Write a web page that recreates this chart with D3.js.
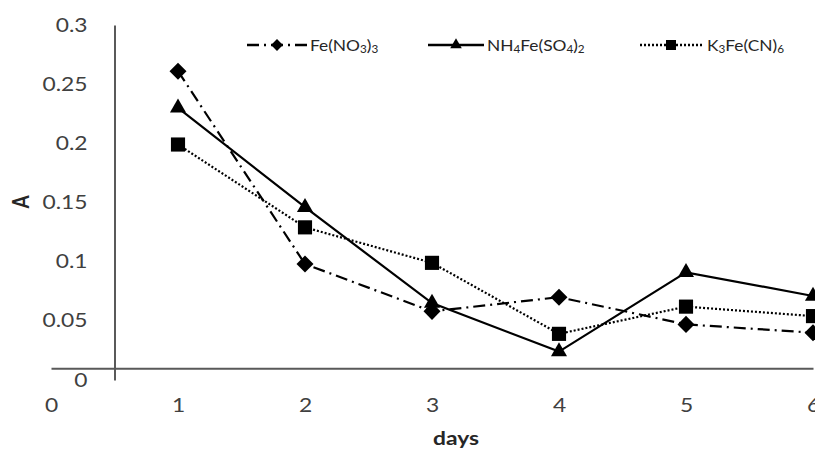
<!DOCTYPE html>
<html>
<head>
<meta charset="utf-8">
<script src="https://cdn.jsdelivr.net/npm/d3@7"></script>
<style>
  html, body { margin: 0; padding: 0; background: #fff; }
  svg { display: block; font-family: Lato, "Open Sans", sans-serif; }
</style>
</head>
<body>
<svg id="chart" width="815" height="451"></svg>
<script>
// ---- data ----
const days = [1, 2, 3, 4, 5, 6];
const feNO3 = [0.261, 0.098, 0.058, 0.070, 0.047, 0.040];
const nh4FeSO4 = [0.230, 0.146, 0.065, 0.024, 0.091, 0.071];
const k3FeCN6 = [0.199, 0.129, 0.099, 0.039, 0.062, 0.054];
const xTicks = [0, 1, 2, 3, 4, 5, 6];
const yTicks = [0, 0.05, 0.1, 0.15, 0.2, 0.25, 0.3];
const seriesNames = [
  [["Fe(NO", 0], ["3", 1], [")", 0], ["3", 1]],
  [["NH", 0], ["4", 1], ["Fe(SO", 0], ["4", 1], [")", 0], ["2", 1]],
  [["K", 0], ["3", 1], ["Fe(CN)", 0], ["6", 1]]
];

// ---- layout ----
const W = 815, H = 451;
const SX = 1.2; // horizontal text stretch
const svg = d3.select("#chart");
svg.append("rect").attr("width", W).attr("height", H).attr("fill", "#fff");

const x = d3.scaleLinear().domain([0, 6]).range([51, 813]);
const y = d3.scaleLinear().domain([0, 0.3]).range([380, 25]);
const yAxisAt = 0.5;   // vertical axis crosses x at 0.5
const xAxisAt = 0.01;  // horizontal axis crosses y at 0.01

// custom diamond symbol
const symDiamond = {
  draw(ctx, size) {
    const r = Math.sqrt(size / 2);
    ctx.moveTo(0, -r); ctx.lineTo(r, 0); ctx.lineTo(0, r); ctx.lineTo(-r, 0); ctx.closePath();
  }
};

// axes
const yAxis = d3.axisLeft(y).tickValues(yTicks).tickSize(0).tickSizeOuter(0).tickPadding(27)
  .tickFormat(d => d3.format("")(+d.toFixed(2)));
const gy = svg.append("g").attr("transform", `translate(${x(yAxisAt)},0)`).call(yAxis);
gy.select(".domain").attr("stroke", "#000").attr("stroke-width", 1.3);
gy.selectAll("text").each(function () {
  const t = d3.select(this);
  const tx = +t.attr("x");
  t.attr("x", 0).attr("transform", `translate(${tx},0) scale(${SX},1)`);
}).attr("font-size", 19).attr("fill", "#404040").attr("font-family", "Lato");

const xAxis = d3.axisBottom(x).tickValues(xTicks).tickSize(0).tickSizeOuter(0).tickPadding(30)
  .tickFormat(d3.format("d"));
const gx = svg.append("g").attr("transform", `translate(0,${y(xAxisAt)})`).call(xAxis);
gx.select(".domain").attr("stroke", "#595959").attr("stroke-width", 2);
gx.selectAll("text").attr("transform", `scale(${SX},1)`)
  .attr("font-size", 19).attr("fill", "#404040").attr("font-family", "Lato");

// axis titles
svg.append("text")
  .attr("transform", `translate(456,445) scale(${SX},1)`)
  .attr("text-anchor", "middle").attr("font-weight", "bold").attr("font-size", 19)
  .attr("fill", "#262626").text("days");
svg.append("text")
  .attr("transform", `translate(20,202) scale(${SX},1) rotate(-90)`)
  .attr("text-anchor", "middle").attr("dominant-baseline", "central")
  .attr("font-weight", "bold").attr("font-size", 19)
  .attr("fill", "#262626").text("A");

// series
const series = [
  { values: feNO3, dash: "12,5,2,5", sym: symDiamond, size: 145, lsize: 70 },
  { values: nh4FeSO4, dash: null, sym: d3.symbolTriangle, size: 112, lsize: 58 },
  { values: k3FeCN6, dash: "2,2", sym: d3.symbolSquare, size: 200, lsize: 100 }
];

const line = d3.line().x((d, i) => x(days[i])).y(d => y(d));
series.forEach(s => {
  svg.append("path").datum(s.values)
    .attr("d", line).attr("fill", "none").attr("stroke", "#000")
    .attr("stroke-width", 2.2)
    .attr("stroke-dasharray", s.dash);
  svg.append("g").selectAll("path").data(s.values).join("path")
    .attr("transform", (d, i) => `translate(${x(days[i])},${y(d)})`)
    .attr("d", d3.symbol().type(s.sym).size(s.size))
    .attr("fill", "#000");
});

// legend
const legendY = 45;
const legendItems = [
  { x0: 247, x1: 307, mx: 277, tx: 310 },
  { x0: 428, x1: 484, mx: 456, tx: 487 },
  { x0: 640, x1: 703, mx: 671, tx: 707 }
];
series.forEach((s, i) => {
  const L = legendItems[i];
  const g = svg.append("g");
  g.append("line").attr("x1", L.x0).attr("x2", L.x1).attr("y1", legendY).attr("y2", legendY)
    .attr("stroke", "#000").attr("stroke-width", 2.4).attr("stroke-dasharray", s.dash);
  g.append("path").attr("transform", `translate(${L.mx},${legendY})`)
    .attr("d", d3.symbol().type(s.sym).size(s.lsize)).attr("fill", "#000");
  const t = g.append("text")
    .attr("transform", `translate(${L.tx},${legendY + 5.5}) scale(1.12,1)`)
    .attr("font-size", 15.5).attr("fill", "#262626");
  seriesNames[i].forEach(([str, sub]) => {
    t.append("tspan").text(str)
      .attr("font-size", sub ? 10.5 : 15.5)
      .attr("dy", sub ? 2 : (str === seriesNames[i][0][0] ? 0 : -2));
  });
});
</script>
</body>
</html>
